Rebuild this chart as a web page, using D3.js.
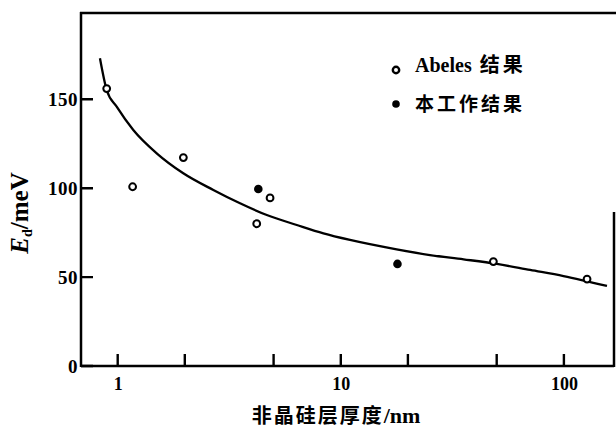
<!DOCTYPE html>
<html>
<head>
<meta charset="utf-8">
<script src="https://cdn.jsdelivr.net/npm/d3@7"></script>
<style>
  body { margin: 0; background: #fff; }
  svg { display: block; }
</style>
</head>
<body>
<div id="chart"></div>
<script>
// Abeles results (open circles), thickness in nm, Ed in meV
var abelesX = [0.893, 1.167, 1.97, 4.2, 4.82, 48.3, 127];
var abelesY = [156, 100.8, 117.2, 80, 94.5, 58.7, 48.9];
// this work (filled dots)
var workX = [4.27, 17.95];
var workY = [99.5, 57.4];
// fitted curve
var curveX = [0.833, 0.893, 0.99, 1.175, 1.496, 1.968, 2.684, 3.535, 4.66, 6.35, 8.36, 11.0, 17.8, 25.1, 35.5, 50.1, 70.6, 99.6, 156];
var curveY = [173.1, 155.2, 145.8, 132.7, 119.6, 108.4, 99.0, 91.5, 84.9, 79.3, 74.6, 70.9, 65.6, 62.4, 60.0, 57.4, 54.0, 50.6, 45.0];

var xTicks = [1, 2, 5, 10, 20, 50, 100];
var xTickLabels = {1: "1", 10: "10", 100: "100"};
var yTicks = [0, 50, 100, 150];

var W = 616, H = 430;
var svg = d3.select("#chart").append("svg").attr("width", W).attr("height", H);

var xs = d3.scaleLog().domain([0.685, 166]).range([81, 613]);
var ys = d3.scaleLinear().domain([0, 198.5]).range([366, 13]);

var numFont = "'Liberation Serif', 'DejaVu Serif', serif";
var cjkFont = "'Noto Sans CJK SC', sans-serif";

// axes for the labels and lines
var xAxis = d3.axisBottom(xs).tickValues(xTicks).tickSize(0).tickFormat(function(d) { return xTickLabels[d] || ""; });
var yAxis = d3.axisLeft(ys).tickValues(yTicks).tickSize(0).tickFormat(d3.format("d"));

var gx = svg.append("g").attr("transform", "translate(0,366)").call(xAxis);
gx.select(".domain").attr("d", "M81,0H614").attr("stroke", "#000").attr("stroke-width", 2.5);
gx.selectAll(".tick text").attr("dy", null).attr("y", 24)
  .attr("font-family", numFont).attr("font-weight", "bold").attr("font-size", 18).attr("fill", "#000");

var gy = svg.append("g").attr("transform", "translate(81,0)").call(yAxis);
gy.select(".domain").attr("d", "M0,367V12").attr("stroke", "#000").attr("stroke-width", 2.5);
gy.selectAll(".tick text").attr("x", -3)
  .attr("font-family", numFont).attr("font-weight", "bold").attr("font-size", 19)
  .attr("letter-spacing", 0.5).attr("fill", "#000");

// top line and partial right border
svg.append("line").attr("x1", 80).attr("x2", 616).attr("y1", 13).attr("y2", 13)
  .attr("stroke", "#000").attr("stroke-width", 2.5);
svg.append("line").attr("x1", 614).attr("x2", 614).attr("y1", 212).attr("y2", 367)
  .attr("stroke", "#000").attr("stroke-width", 2.5);

// curve
var curveLine = d3.line().x(function(d) { return xs(d[0]); }).y(function(d) { return ys(d[1]); }).curve(d3.curveMonotoneX);
svg.append("path").datum(d3.zip(curveX, curveY)).attr("d", curveLine)
  .attr("fill", "none").attr("stroke", "#000").attr("stroke-width", 2.3);

// points
svg.selectAll(".abeles").data(d3.zip(abelesX, abelesY)).enter().append("circle")
  .attr("cx", function(d) { return xs(d[0]); }).attr("cy", function(d) { return ys(d[1]); })
  .attr("r", 3.4).attr("fill", "#fff").attr("stroke", "#000").attr("stroke-width", 2);
svg.selectAll(".work").data(d3.zip(workX, workY)).enter().append("circle")
  .attr("cx", function(d) { return xs(d[0]); }).attr("cy", function(d) { return ys(d[1]); })
  .attr("r", 4.3).attr("fill", "#000");

// inward tick marks
var xTickPath = xTicks.map(function(d) { return "M" + xs(d).toFixed(1) + ",366V354"; }).join("");
var yTickPath = yTicks.map(function(d) { return "M81," + ys(d).toFixed(1) + "H93"; }).join("");
svg.append("path").attr("d", xTickPath).attr("fill", "none").attr("stroke", "#000").attr("stroke-width", 2.4);
svg.append("path").attr("d", yTickPath).attr("fill", "none").attr("stroke", "#000").attr("stroke-width", 2.4);

// legend
svg.append("circle").attr("cx", 396).attr("cy", 70).attr("r", 3.2)
  .attr("fill", "#fff").attr("stroke", "#000").attr("stroke-width", 2.4);
svg.append("circle").attr("cx", 396).attr("cy", 104).attr("r", 3.8).attr("fill", "#000");
var t1 = svg.append("text").attr("x", 415).attr("y", 72).attr("font-weight", "bold").attr("fill", "#000");
t1.append("tspan").attr("font-family", numFont).attr("font-size", 20).text("Abeles");
t1.append("tspan").attr("font-family", cjkFont).attr("font-size", 20).attr("dx", 8).attr("letter-spacing", 3).text("结果");
svg.append("text").attr("x", 415).attr("y", 111).attr("font-family", cjkFont).attr("font-size", 19)
  .attr("font-weight", "bold").attr("letter-spacing", 3).attr("fill", "#000").text("本工作结果");

// axis titles
var yt = svg.append("text").attr("transform", "translate(28,213) rotate(-90)").attr("text-anchor", "middle")
  .attr("font-family", numFont).attr("font-weight", "bold").attr("font-size", 25).attr("fill", "#000");
yt.append("tspan").attr("font-style", "italic").text("E");
yt.append("tspan").attr("font-size", 14).attr("dy", 4).text("d");
yt.append("tspan").attr("dy", -4).text("/meV");

var xt = svg.append("text").attr("x", 336).attr("y", 423).attr("text-anchor", "middle")
  .attr("font-weight", "bold").attr("fill", "#000");
xt.append("tspan").attr("font-family", cjkFont).attr("font-size", 20).attr("letter-spacing", 2).text("非晶硅层厚度");
xt.append("tspan").attr("font-family", numFont).attr("font-size", 22).text("/nm");
</script>
</body>
</html>
